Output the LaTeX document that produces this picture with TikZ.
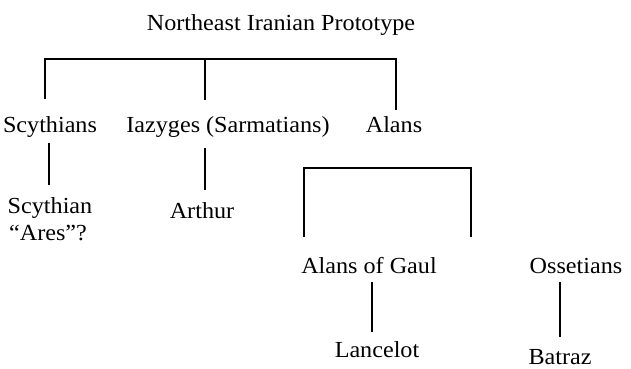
\documentclass[tikz,border=0pt]{standalone}
\usepackage{fontspec}
\setmainfont[FakeStretch=1.05]{Liberation Serif}
\begin{document}
\begin{tikzpicture}[x=1pt,y=1pt,
  lbl/.style={anchor=base,inner sep=0pt,font=\fontsize{23}{27}\selectfont},
  tree/.style={line width=2.2pt,line cap=butt,line join=miter},
  stem/.style={line width=2pt}]
\useasboundingbox (0,0) rectangle (631,368);
% labels
\node[lbl] (root) at (281,338) {Northeast Iranian Prototype};
\node[lbl] (scy) at (50,236) {Scythians};
\node[lbl] (iaz) at (228,236) {Iazyges (Sarmatians)};
\node[lbl] (alans) at (394,236) {Alans};
\node[lbl] (scyg1) at (50,155) {Scythian};
\node[lbl] (scyg2) at (48,128) {“Ares”?};
\node[lbl] (arthur) at (202,150) {Arthur};
\node[lbl] (gaul) at (369,95) {Alans of Gaul};
\node[lbl] (oss) at (576,95) {Ossetians};
\node[lbl] (lanc) at (377,11) {Lancelot};
\node[lbl] (batraz) at (560,4) {Batraz};
% junction coordinates
\coordinate (tL) at (45,309);
\coordinate (tM) at (205,309);
\coordinate (tR) at (396,309);
\coordinate (eL) at (45,269);
\coordinate (eM) at (205,268);
\coordinate (eR) at (396,258);
\coordinate (aL) at (304,200);
\coordinate (aR) at (471,200);
\coordinate (fL) at (304,131);
\coordinate (fR) at (471,131);
\coordinate (s1a) at (49,225);
\coordinate (s1b) at (49,183);
\coordinate (s2a) at (205,220);
\coordinate (s2b) at (205,178);
\coordinate (s3a) at (372,86);
\coordinate (s3b) at (372,36);
\coordinate (s4a) at (560,86);
\coordinate (s4b) at (560,31);
% tree lines
\draw[tree] (eL) -- (tL) -- (tR) -- (eR);
\draw[tree] (tM) -- (eM);
\draw[tree] (fL) -- (aL) -- (aR) -- (fR);
\draw[stem] (s1a) -- (s1b);
\draw[stem] (s2a) -- (s2b);
\draw[stem] (s3a) -- (s3b);
\draw[stem] (s4a) -- (s4b);
\end{tikzpicture}
\end{document}
